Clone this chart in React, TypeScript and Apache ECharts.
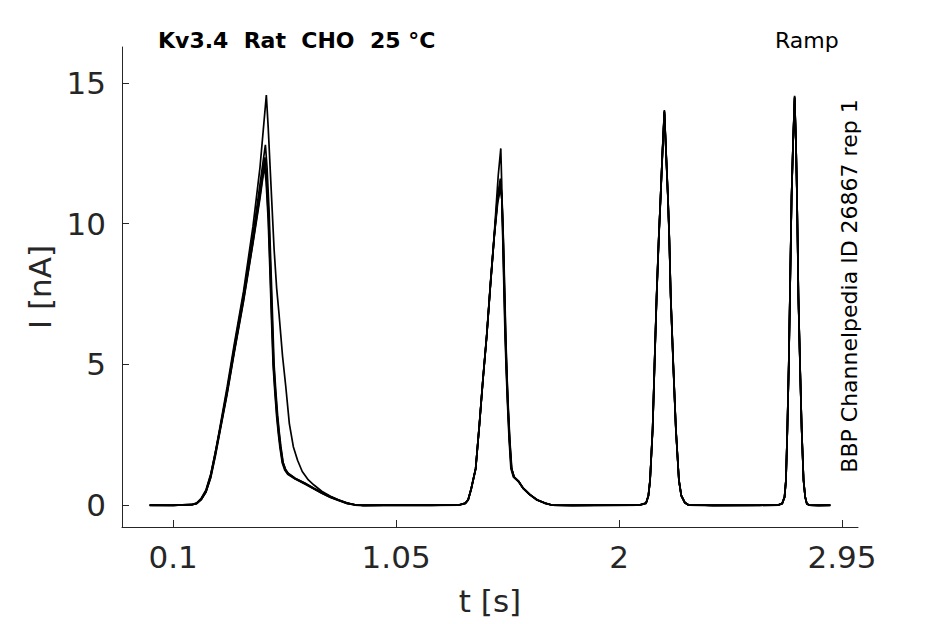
import React, { useEffect, useRef } from "react";
import * as echarts from "echarts";

const xTicks = [0.1, 1.05, 2, 2.95];
const yTicks = [0, 5, 10, 15];

const traceA = [
  [0, 0.01], [0.1, 0], [0.18, 0.03], [0.2, 0.08], [0.22, 0.25], [0.24, 0.55], [0.26, 1.1], [0.28, 1.9], [0.3, 2.8], [0.33, 4.2], [0.36, 5.7], [0.4, 7.6], [0.44, 9.9], [0.47, 12.0], [0.497, 14.56],
  [0.505, 13.4], [0.516, 11.5], [0.53, 9.1], [0.541, 7.7], [0.551, 6.8], [0.566, 5.3], [0.58, 4.2], [0.595, 2.9], [0.612, 2.08], [0.63, 1.6], [0.65, 1.2], [0.676, 0.9], [0.7, 0.72], [0.733, 0.5], [0.77, 0.32], [0.804, 0.2], [0.84, 0.09], [0.875, 0.02], [0.91, 0], [1.0, 0.01],
  [1.2, 0.01], [1.32, 0.02], [1.345, 0.08], [1.357, 0.2], [1.37, 0.6], [1.389, 1.31], [1.405, 2.9], [1.42, 4.5], [1.436, 6.05], [1.452, 7.9], [1.468, 9.6], [1.485, 11.7], [1.496, 12.67],
  [1.5, 11.4], [1.504, 9.6], [1.509, 7.8], [1.514, 6.05], [1.519, 4.8], [1.524, 3.7], [1.531, 2.4], [1.539, 1.31], [1.55, 1.0], [1.571, 0.84], [1.59, 0.62], [1.62, 0.38], [1.65, 0.2], [1.684, 0.08], [1.713, 0.01], [1.8, 0],
  [1.9, 0.01], [2.09, 0.02], [2.115, 0.08], [2.125, 0.35], [2.132, 0.9], [2.143, 2.72], [2.151, 5.0], [2.16, 7.47], [2.169, 9.5], [2.177, 11.0], [2.185, 12.6], [2.193, 14.03],
  [2.2, 12.6], [2.208, 11.0], [2.214, 9.5], [2.22, 7.47], [2.231, 5.0], [2.242, 2.72], [2.255, 0.9], [2.265, 0.35], [2.28, 0.1], [2.295, 0.02], [2.4, 0],
  [2.6, 0.01], [2.68, 0.02], [2.695, 0.07], [2.705, 0.3], [2.711, 0.9], [2.717, 2.72], [2.723, 5.0], [2.728, 7.47], [2.732, 9.5], [2.735, 11.0], [2.741, 12.8], [2.748, 14.54],
  [2.754, 12.8], [2.758, 11.0], [2.761, 9.3], [2.764, 7.47], [2.771, 5.0], [2.778, 2.72], [2.786, 0.9], [2.793, 0.3], [2.8, 0.06], [2.81, 0.01], [2.85, 0], [2.9, 0.01],
];

const traceB = [
  [0, 0], [0.1, 0.01], [0.18, 0.02], [0.2, 0.07], [0.22, 0.22], [0.24, 0.5], [0.26, 1.05], [0.28, 1.85], [0.3, 2.75], [0.33, 4.1], [0.36, 5.6], [0.4, 7.5], [0.44, 9.6], [0.47, 11.4], [0.493, 12.8],
  [0.5, 12.0], [0.509, 10.4], [0.516, 8.6], [0.523, 6.8], [0.53, 5.0], [0.537, 4.1], [0.545, 3.2], [0.552, 2.6], [0.559, 2.08], [0.569, 1.5], [0.58, 1.25], [0.591, 1.12], [0.62, 0.95], [0.661, 0.78], [0.7, 0.6], [0.733, 0.45], [0.77, 0.3], [0.804, 0.19], [0.84, 0.08], [0.875, 0.02], [0.91, 0], [1.0, 0],
  [1.2, 0], [1.32, 0.02], [1.345, 0.07], [1.357, 0.19], [1.37, 0.58], [1.389, 1.3], [1.405, 2.88], [1.42, 4.47], [1.436, 6.02], [1.452, 7.85], [1.468, 9.55], [1.481, 10.9], [1.494, 11.6],
  [1.5, 11.0], [1.505, 9.5], [1.51, 7.8], [1.515, 6.1], [1.52, 4.8], [1.525, 3.7], [1.532, 2.4], [1.54, 1.35], [1.551, 1.02], [1.571, 0.86], [1.59, 0.63], [1.62, 0.39], [1.65, 0.2], [1.684, 0.08], [1.713, 0.01], [1.8, 0],
  [1.9, 0], [2.09, 0.01], [2.115, 0.07], [2.125, 0.33], [2.132, 0.88], [2.143, 2.7], [2.151, 4.95], [2.16, 7.4], [2.169, 9.45], [2.177, 10.95], [2.185, 12.55], [2.193, 13.95],
  [2.2, 12.55], [2.208, 10.95], [2.214, 9.45], [2.22, 7.4], [2.231, 4.95], [2.242, 2.7], [2.255, 0.88], [2.265, 0.33], [2.28, 0.09], [2.295, 0.01], [2.4, 0],
  [2.6, 0], [2.68, 0.01], [2.695, 0.06], [2.705, 0.28], [2.711, 0.88], [2.717, 2.7], [2.723, 4.95], [2.728, 7.4], [2.732, 9.45], [2.735, 10.95], [2.741, 12.75], [2.748, 14.45],
  [2.754, 12.75], [2.758, 10.95], [2.761, 9.25], [2.764, 7.4], [2.771, 4.95], [2.778, 2.7], [2.786, 0.88], [2.793, 0.28], [2.8, 0.05], [2.81, 0.01], [2.85, 0], [2.9, 0],
];

const traceC = [
  [0, 0.01], [0.1, 0], [0.18, 0.03], [0.2, 0.08], [0.22, 0.24], [0.24, 0.52], [0.26, 1.08], [0.28, 1.88], [0.3, 2.72], [0.33, 4.05], [0.36, 5.5], [0.4, 7.4], [0.44, 9.45], [0.47, 11.1], [0.491, 12.35],
  [0.498, 11.7], [0.507, 10.3], [0.514, 8.6], [0.521, 6.8], [0.528, 5.1], [0.535, 4.15], [0.543, 3.25], [0.55, 2.65], [0.557, 2.12], [0.567, 1.55], [0.578, 1.28], [0.59, 1.14], [0.62, 0.96], [0.661, 0.79], [0.7, 0.61], [0.733, 0.46], [0.77, 0.31], [0.804, 0.19], [0.84, 0.08], [0.875, 0.02], [0.91, 0], [1.0, 0.01],
  [1.2, 0.01], [1.32, 0.02], [1.345, 0.08], [1.357, 0.21], [1.37, 0.6], [1.389, 1.32], [1.405, 2.9], [1.42, 4.48], [1.436, 6.03], [1.452, 7.87], [1.468, 9.57], [1.482, 10.85], [1.495, 11.5],
  [1.501, 10.9], [1.506, 9.4], [1.511, 7.7], [1.516, 6.0], [1.521, 4.7], [1.526, 3.6], [1.533, 2.35], [1.541, 1.33], [1.552, 1.01], [1.572, 0.85], [1.59, 0.62], [1.62, 0.38], [1.65, 0.2], [1.684, 0.08], [1.713, 0.01], [1.8, 0],
  [1.9, 0.01], [2.09, 0.02], [2.115, 0.08], [2.125, 0.35], [2.132, 0.9], [2.143, 2.73], [2.151, 5.0], [2.16, 7.45], [2.169, 9.5], [2.177, 11.0], [2.185, 12.6], [2.193, 14.0],
  [2.2, 12.6], [2.208, 11.0], [2.214, 9.5], [2.22, 7.45], [2.231, 5.0], [2.242, 2.73], [2.255, 0.9], [2.265, 0.35], [2.28, 0.1], [2.295, 0.02], [2.4, 0],
  [2.6, 0.01], [2.68, 0.02], [2.695, 0.07], [2.705, 0.3], [2.711, 0.9], [2.717, 2.73], [2.723, 5.0], [2.728, 7.45], [2.732, 9.5], [2.735, 11.0], [2.741, 12.8], [2.748, 14.5],
  [2.754, 12.8], [2.758, 11.0], [2.761, 9.3], [2.764, 7.45], [2.771, 5.0], [2.778, 2.73], [2.786, 0.9], [2.793, 0.3], [2.8, 0.06], [2.81, 0.01], [2.85, 0], [2.9, 0.01],
];

const traceD = [
  [0, 0], [0.1, 0.01], [0.18, 0.02], [0.2, 0.06], [0.22, 0.2], [0.24, 0.48], [0.26, 1.0], [0.28, 1.8], [0.3, 2.68], [0.33, 4.0], [0.36, 5.45], [0.4, 7.3], [0.44, 9.35], [0.47, 11.0], [0.49, 12.2],
  [0.497, 11.6], [0.506, 10.2], [0.513, 8.5], [0.52, 6.7], [0.527, 5.0], [0.534, 4.1], [0.542, 3.2], [0.549, 2.6], [0.556, 2.1], [0.566, 1.52], [0.577, 1.26], [0.589, 1.12], [0.62, 0.94], [0.661, 0.77], [0.7, 0.59], [0.733, 0.44], [0.77, 0.29], [0.804, 0.18], [0.84, 0.07], [0.875, 0.01], [0.91, 0], [1.0, 0],
  [1.2, 0], [1.32, 0.01], [1.345, 0.07], [1.357, 0.19], [1.37, 0.57], [1.389, 1.29], [1.405, 2.86], [1.42, 4.45], [1.436, 6.0], [1.452, 7.82], [1.468, 9.52], [1.482, 10.8], [1.495, 11.4],
  [1.501, 10.8], [1.507, 9.3], [1.512, 7.6], [1.517, 5.9], [1.522, 4.6], [1.527, 3.5], [1.534, 2.3], [1.542, 1.3], [1.553, 1.0], [1.573, 0.84], [1.59, 0.61], [1.62, 0.37], [1.65, 0.19], [1.684, 0.07], [1.713, 0.01], [1.8, 0],
  [1.9, 0], [2.09, 0.01], [2.115, 0.07], [2.125, 0.34], [2.132, 0.87], [2.143, 2.68], [2.151, 4.92], [2.16, 7.38], [2.169, 9.4], [2.177, 10.9], [2.185, 12.5], [2.193, 13.9],
  [2.2, 12.5], [2.208, 10.9], [2.214, 9.4], [2.22, 7.38], [2.231, 4.92], [2.242, 2.68], [2.255, 0.87], [2.265, 0.34], [2.28, 0.09], [2.295, 0.01], [2.4, 0],
  [2.6, 0], [2.68, 0.01], [2.695, 0.06], [2.705, 0.29], [2.711, 0.87], [2.717, 2.68], [2.723, 4.92], [2.728, 7.38], [2.732, 9.4], [2.735, 10.9], [2.741, 12.7], [2.748, 14.4],
  [2.754, 12.7], [2.758, 10.9], [2.761, 9.2], [2.764, 7.38], [2.771, 4.92], [2.778, 2.68], [2.786, 0.87], [2.793, 0.29], [2.8, 0.05], [2.81, 0.01], [2.85, 0], [2.9, 0],
];

const traceE = [
  [0, 0.01], [0.1, 0], [0.18, 0.02], [0.2, 0.06], [0.22, 0.21], [0.24, 0.47], [0.26, 0.98], [0.28, 1.76], [0.3, 2.64], [0.33, 3.95], [0.36, 5.4], [0.4, 7.25], [0.44, 9.3], [0.47, 10.9], [0.489, 12.05],
  [0.496, 11.5], [0.505, 10.1], [0.512, 8.4], [0.519, 6.6], [0.526, 4.95], [0.533, 4.05], [0.541, 3.15], [0.548, 2.55], [0.555, 2.05], [0.565, 1.5], [0.576, 1.24], [0.588, 1.1], [0.62, 0.93], [0.661, 0.76], [0.7, 0.58], [0.733, 0.43], [0.77, 0.28], [0.804, 0.17], [0.84, 0.07], [0.875, 0.01], [0.91, 0], [1.0, 0.01],
  [1.2, 0.01], [1.32, 0.01], [1.345, 0.07], [1.357, 0.2], [1.37, 0.59], [1.389, 1.3], [1.405, 2.87], [1.42, 4.46], [1.436, 6.01], [1.452, 7.84], [1.468, 9.53], [1.483, 10.75], [1.496, 11.3],
  [1.502, 10.7], [1.508, 9.2], [1.513, 7.5], [1.518, 5.8], [1.523, 4.5], [1.528, 3.45], [1.535, 2.25], [1.543, 1.28], [1.554, 0.99], [1.574, 0.83], [1.59, 0.61], [1.62, 0.37], [1.65, 0.19], [1.684, 0.07], [1.713, 0.01], [1.8, 0],
  [1.9, 0.01], [2.09, 0.02], [2.115, 0.08], [2.125, 0.35], [2.132, 0.89], [2.143, 2.71], [2.151, 4.97], [2.16, 7.43], [2.169, 9.47], [2.177, 10.97], [2.185, 12.57], [2.193, 13.97],
  [2.2, 12.57], [2.208, 10.97], [2.214, 9.47], [2.22, 7.43], [2.231, 4.97], [2.242, 2.71], [2.255, 0.89], [2.265, 0.35], [2.28, 0.1], [2.295, 0.02], [2.4, 0],
  [2.6, 0.01], [2.68, 0.02], [2.695, 0.07], [2.705, 0.3], [2.711, 0.89], [2.717, 2.71], [2.723, 4.97], [2.728, 7.43], [2.732, 9.47], [2.735, 10.97], [2.741, 12.77], [2.748, 14.48],
  [2.754, 12.77], [2.758, 10.97], [2.761, 9.27], [2.764, 7.43], [2.771, 4.97], [2.778, 2.71], [2.786, 0.89], [2.793, 0.3], [2.8, 0.06], [2.81, 0.01], [2.85, 0], [2.9, 0.01],
];

const traces = [traceE, traceD, traceC, traceB, traceA];

const FONT = '"DejaVu Sans", sans-serif';
const AXIS_COLOR = "#262626";

export default function App() {
  const ref = useRef<HTMLDivElement>(null);

  useEffect(() => {
    if (!ref.current) return;
    const chart = echarts.init(ref.current, null, { renderer: "svg" });
    const axisCommon = {
      type: "value",
      splitLine: { show: false },
      axisLine: { show: true, onZero: false, lineStyle: { color: AXIS_COLOR, width: 1 } },
      nameLocation: "middle",
      nameTextStyle: { fontSize: 31, color: AXIS_COLOR, fontFamily: FONT },
    };
    chart.setOption({
      animation: false,
      backgroundColor: "#ffffff",
      grid: { left: 122, right: 87, top: 47, bottom: 97, containLabel: false, outerBoundsMode: "none" },
      xAxis: {
        ...axisCommon,
        min: -0.118,
        max: 3.018,
        name: "t [s]",
        nameGap: 58,
        axisTick: { show: true, inside: true, length: 7, customValues: xTicks, lineStyle: { color: AXIS_COLOR } },
        axisLabel: {
          customValues: xTicks,
          formatter: (v: number) => String(v),
          fontSize: 31,
          color: AXIS_COLOR,
          fontFamily: FONT,
          margin: 14,
        },
      },
      yAxis: {
        ...axisCommon,
        min: -0.77,
        max: 16.27,
        name: "I [nA]",
        nameRotate: 90,
        nameGap: 64,
        axisTick: { show: true, inside: true, length: 7, customValues: yTicks, lineStyle: { color: AXIS_COLOR } },
        axisLabel: {
          customValues: yTicks,
          formatter: (v: number) => String(v),
          fontSize: 31,
          color: AXIS_COLOR,
          fontFamily: FONT,
          margin: 16,
        },
      },
      series: traces.map((d) => ({
        type: "line",
        data: d,
        symbol: "none",
        showSymbol: false,
        lineStyle: { color: "#000000", width: 1.7 },
        silent: true,
      })),
      graphic: [
        {
          type: "text",
          x: 158,
          y: 40,
          style: {
            text: "Kv3.4 \u00a0Rat \u00a0CHO \u00a025 °C",
            font: `bold 22px ${FONT}`,
            fill: "#000000",
            textAlign: "left",
            textVerticalAlign: "middle",
          },
        },
        {
          type: "text",
          x: 775,
          y: 40,
          style: {
            text: "Ramp",
            font: `22px ${FONT}`,
            fill: "#000000",
            textAlign: "left",
            textVerticalAlign: "middle",
          },
        },
        {
          type: "text",
          x: 849,
          y: 286,
          rotation: Math.PI / 2,
          style: {
            text: "BBP Channelpedia ID 26867 rep 1",
            font: `22px ${FONT}`,
            fill: "#000000",
            textAlign: "center",
            textVerticalAlign: "middle",
          },
        },
      ],
    });
    return () => chart.dispose();
  }, []);

  return (
    <div
      ref={ref}
      style={{ position: "fixed", left: 0, top: 0, width: 945, height: 624, background: "#fff" }}
    />
  );
}
